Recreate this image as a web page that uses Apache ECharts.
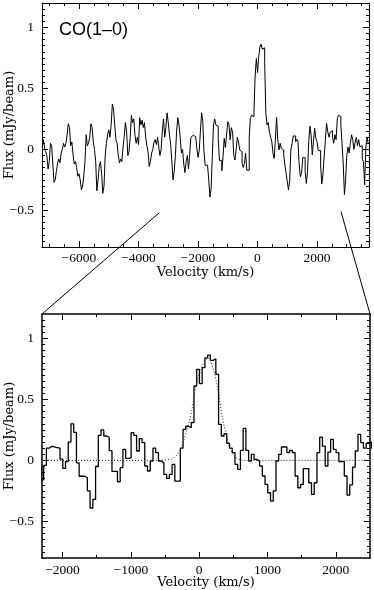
<!DOCTYPE html>
<html>
<head>
<meta charset="utf-8">
<script src="https://cdn.jsdelivr.net/npm/echarts@6/dist/echarts.min.js"></script>
<style>
html, body { margin: 0; padding: 0; background: #fff; }
#chart { width: 374px; height: 590px; }
</style>
</head>
<body>
<div id="chart"></div>
<script>
// channel grid (km/s): centre of first channel and width
var chanStart = -7216, chanWidth = 40;

// flux per channel (mJy/beam), split by region
var fluxBlue = [
	0.05, 0.08, 0.02, -0.02, -0.05, -0.16, -0.10, 0.05, 0.03, -0.12,
	-0.27, -0.25, -0.18, -0.11, -0.08, -0.11, -0.03, 0.00, 0.05, 0.02,
	0.05, 0.12, 0.21, 0.18, 0.03, 0.06, -0.04, -0.12, -0.10, -0.15,
	-0.22, -0.20, -0.25, -0.33, -0.30, -0.22, -0.10, 0.12, 0.03, 0.05,
	0.10, 0.21, 0.18, 0.06, 0.00, -0.10, -0.34, -0.25, -0.14, -0.10,
	-0.20, -0.36, -0.30, -0.05, 0.05, 0.12, 0.16, 0.10, 0.20, 0.37,
	0.33, 0.20, 0.08, 0.05, -0.05, -0.11, -0.08, -0.10, 0.02, 0.11,
	0.22, 0.15, -0.05, -0.02, 0.10, 0.28, 0.22, 0.25, 0.12, 0.05,
	0.10, 0.04, 0.26, 0.20, 0.24, 0.18, 0.22, 0.10, 0.03, -0.02,
	-0.14, -0.10, -0.03, 0.00, 0.06, 0.08, 0.04, 0.10, 0.02, -0.05,
	0.00, 0.15, 0.25, 0.10, 0.18, 0.30, 0.22, 0.12, 0.04, -0.10,
	-0.25, -0.18, -0.05, 0.15, 0.26, 0.20, 0.10, -0.03, 0.00, -0.12,
	-0.19, -0.10, -0.05
];
var fluxZoom = [
	-0.16, -0.04, 0.10, 0.115, 0.11, 0.105, 0.10, 0.01, -0.065, -0.01,
	0.15, 0.30, 0.23, -0.02, -0.13, -0.13, -0.14, -0.25, -0.39, -0.32,
	-0.05, 0.205, 0.25, 0.20, 0.19, 0.08, -0.09, -0.09, -0.175, -0.06,
	0.09, 0.016, 0.02, 0.227, 0.205, 0.077, 0.178, 0.145, -0.046, -0.087,
	-0.005, 0.10, 0.063, -0.005, -0.02, -0.115, -0.148, -0.115, -0.033, -0.17,
	-0.17, 0.10, 0.254, 0.28, 0.268, 0.31, 0.61, 0.746, 0.63, 0.76,
	0.84, 0.863, 0.82, 0.833, 0.705, 0.295, 0.20, 0.22, 0.14, 0.10,
	0.063, -0.033, -0.074, 0.082, 0.262, 0.082, -0.005, 0.05, 0.008, -0.005,
	-0.046, -0.128, -0.197, -0.265, -0.333, -0.25, -0.005, 0.05, 0.11, 0.11,
	0.063, 0.082, 0.063, -0.128, -0.224, -0.197, -0.068, -0.068, -0.183, -0.279,
	-0.183, 0.063, 0.19, 0.117, -0.046, 0.068, 0.172, 0.09, 0.063, -0.01,
	-0.01, -0.128, -0.284, -0.20, -0.055, 0.077, 0.213, 0.145, 0.10, 0.14
];
var fluxRed = [
	0.153, 0.10, 0.05, 0.12, 0.08, 0.25, 0.28, 0.27, 0.20, 0.05,
	-0.12, -0.37, -0.25, -0.05, 0.02, -0.03, 0.05, 0.12, 0.08, 0.00,
	0.06, 0.10, 0.03, 0.08, 0.02, 0.03, -0.08, -0.10, -0.29, 0.02,
	0.10, 0.05
];

// gaussian fit
var fitVel = [-2300, -600, -480, -400, -340, -272, -223, -150, -101, -53, 0, 50, 100, 140, 180, 220, 250, 292, 340, 389, 437, 500, 560, 640, 2500];
var fitFlux = [0, 0, 0.003, 0.012, 0.035, 0.09, 0.17, 0.30, 0.43, 0.60, 0.70, 0.78, 0.83, 0.84, 0.80, 0.72, 0.65, 0.52, 0.35, 0.22, 0.12, 0.04, 0.012, 0, 0];

// ticks
var wideTicks = [-6000, -4000, -2000, 0, 2000];
var wideMinor = [-7000, -6500, -5500, -5000, -4500, -3500, -3000, -2500, -1500, -1000, -500, 500, 1000, 1500, 2500, 3000, 3500];
var zoomTicks = [-2000, -1000, 0, 1000, 2000];
var zoomMinor = [-1500, -500, 500, 1500];
var fluxTicks = [-0.5, 0, 0.5, 1];
var fluxMinor = [];
for (var k = -15; k <= 23; k++) {
	if (k % 10 !== 0) fluxMinor.push(Math.round(k * 5) / 100);
}

// zoom connector ends: top panel point -> bottom panel corner
var connTop = [[-3300, -0.52], [2810, -0.51]];
var connBottom = [[-2300, 1.2], [2500, 1.2]];

var spectrum = fluxBlue.concat(fluxZoom, fluxRed).map(function(f, i) {
	return [chanStart + i * chanWidth, f];
});
var fit = fitVel.map(function(v, i) { return [v, fitFlux[i]]; });

function minusFmt(v) {
	return (v < 0 ? '\u2212' : '') + Math.abs(v);
}

var tickFont = { fontFamily: 'Liberation Serif', fontSize: 13.5, color: '#000' };
var nameFont = { fontFamily: 'DejaVu Serif', fontSize: 13, color: '#000' };

function frame(dim, gridIndex, min, max, major, minor, lineW, name, nameGap, margin) {
	var pos = dim === 'x' ? ['bottom', 'top'] : ['left', 'right'];
	var out = [];
	pos.forEach(function(p, n) {
		out.push({
			type: 'value', gridIndex: gridIndex, position: p, min: min, max: max,
			name: n === 0 ? name : '', nameLocation: 'middle', nameGap: nameGap,
			nameMoveOverlap: false,
			nameTextStyle: nameFont,
			axisLine: { show: true, onZero: false, lineStyle: { color: '#000', width: lineW } },
			axisTick: { show: true, inside: true, length: 6, customValues: major, lineStyle: { color: '#000', width: 1 } },
			axisLabel: Object.assign({ show: n === 0, customValues: major, margin: margin, formatter: minusFmt }, tickFont),
			splitLine: { show: false }
		});
		out.push({
			type: 'value', gridIndex: gridIndex, position: p, min: min, max: max,
			axisLine: { show: false, onZero: false },
			axisTick: { show: true, inside: true, length: 3, customValues: minor, lineStyle: { color: '#000', width: 1 } },
			axisLabel: { show: false },
			splitLine: { show: false }
		});
	});
	return out;
}

var chart = echarts.init(document.getElementById('chart'), null, { renderer: 'canvas' });

var option = {
	animation: false,
	backgroundColor: '#fff',
	title: {
		text: 'CO(1\u20130)', left: 59, top: 21, padding: 0,
		textStyle: { fontFamily: 'Liberation Sans', fontSize: 18, fontWeight: 'normal', color: '#000' }
	},
	grid: [
		{ left: 42, right: 5, top: 3, height: 244, outerBoundsMode: 'none' },
		{ left: 42, right: 4, top: 314, height: 244, outerBoundsMode: 'none' }
	],
	xAxis: frame('x', 0, -7240, 3750, wideTicks, wideMinor, 1, 'Velocity (km/s)', 19, 4)
		.concat(frame('x', 1, -2300, 2500, zoomTicks, zoomMinor, 1.5, 'Velocity (km/s)', 18, 5)),
	yAxis: frame('y', 0, -0.8, 1.2, fluxTicks, fluxMinor, 1, 'Flux (mJy/beam)', 26, 8)
		.concat(frame('y', 1, -0.8, 1.2, fluxTicks, fluxMinor, 1.5, 'Flux (mJy/beam)', 26, 8)),
	series: [{
		type: 'line', xAxisIndex: 0, yAxisIndex: 0, step: 'middle', showSymbol: false,
		data: spectrum, lineStyle: { color: '#000', width: 1 }
	}, {
		type: 'line', xAxisIndex: 4, yAxisIndex: 4, step: 'middle', showSymbol: false,
		data: spectrum, lineStyle: { color: '#000', width: 1.3 }
	}, {
		type: 'line', xAxisIndex: 4, yAxisIndex: 4, showSymbol: false,
		data: fit, lineStyle: { color: '#222', width: 1, type: [1, 2] }
	}]
};
chart.setOption(option);

var lines = connTop.map(function(pt, i) {
	var a = chart.convertToPixel({ xAxisIndex: 0, yAxisIndex: 0 }, pt);
	var b = chart.convertToPixel({ xAxisIndex: 4, yAxisIndex: 4 }, connBottom[i]);
	return {
		type: 'line', silent: true,
		shape: { x1: a[0], y1: a[1], x2: b[0], y2: b[1] },
		style: { stroke: '#000', lineWidth: 1 }
	};
});
chart.setOption({ graphic: lines });
</script>
</body>
</html>
